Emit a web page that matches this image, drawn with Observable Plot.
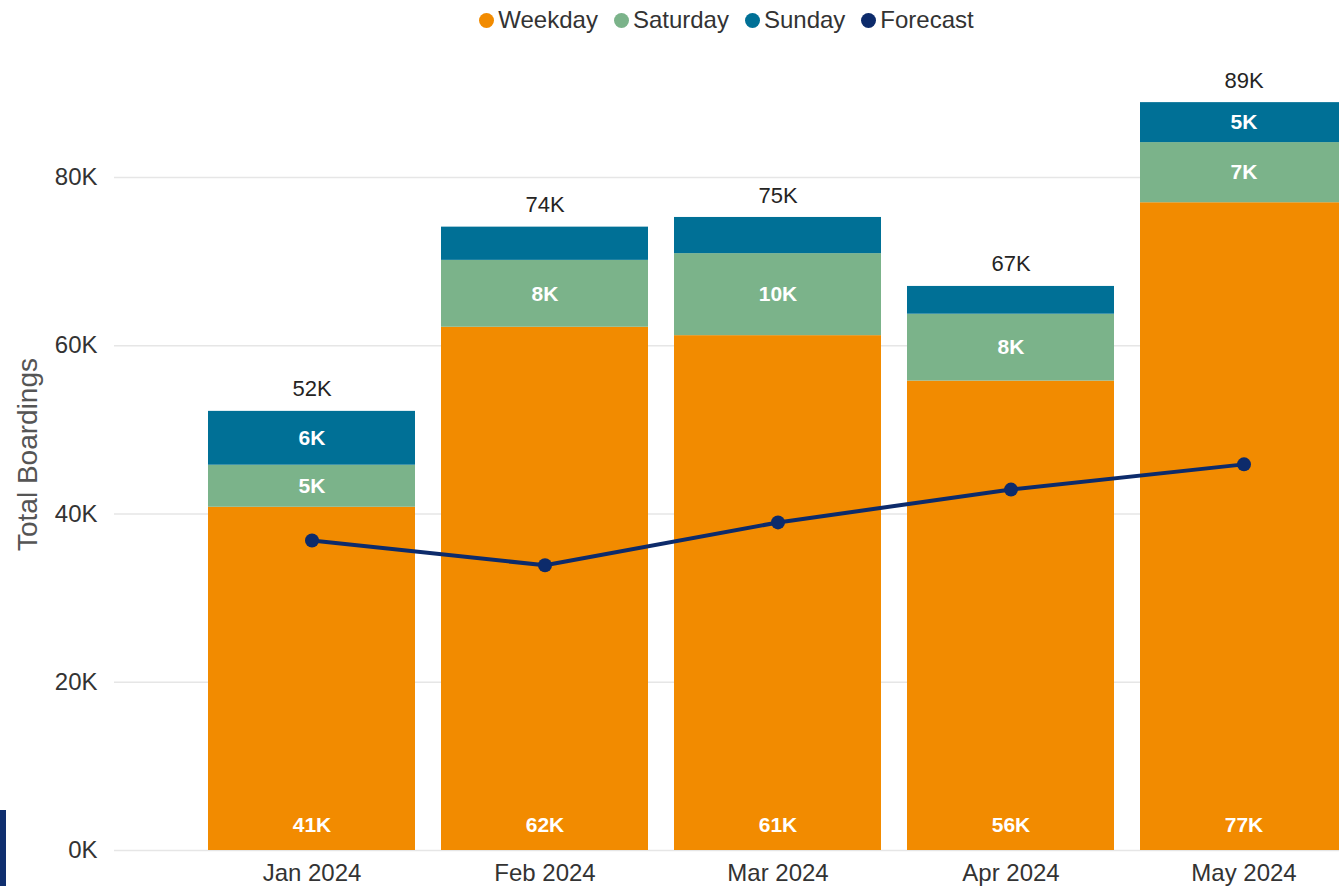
<!DOCTYPE html>
<html>
<head>
<meta charset="utf-8">
<script src="https://cdn.jsdelivr.net/npm/d3@7"></script>
<script src="https://cdn.jsdelivr.net/npm/@observablehq/plot@0.6"></script>
<style>
  html, body { margin: 0; padding: 0; background: #fff; width: 1339px; height: 886px; overflow: hidden; }
  body { font-family: "Liberation Sans", Arial, sans-serif; position: relative; }
  #legend { height: 40px; display: flex; justify-content: center; align-items: center; padding-left: 114px; box-sizing: border-box; gap: 16px; font-size: 24px; color: #333; }
  .item { display: flex; align-items: center; gap: 4px; }
  .dot { width: 15px; height: 15px; border-radius: 50%; display: inline-block; }
  #edge { position: absolute; left: 0; top: 810px; width: 6px; height: 76px; background: #0f2f6f; }
  svg { display: block; }
</style>
</head>
<body>
<div id="legend"></div>
<div id="chart"></div>
<div id="edge"></div>
<script>
const months = ["Jan 2024", "Feb 2024", "Mar 2024", "Apr 2024", "May 2024"];
const weekday = [40800, 62200, 61200, 55800, 77000];
const saturday = [5000, 7950, 9750, 7950, 7150];
const sunday = [6400, 3950, 4300, 3300, 4750];
const forecast = [36850, 33900, 39000, 42900, 45900];
const seriesNames = ["Weekday", "Saturday", "Sunday", "Forecast"];
const seriesColors = ["#F28B00", "#7BB38A", "#007096", "#0D2B6B"];
const yTicks = [0, 20000, 40000, 60000, 80000];

const fmt = v => Math.round(v / 1000) + "K";

// legend
const legend = document.getElementById("legend");
seriesNames.forEach((name, i) => {
  const it = document.createElement("div");
  it.className = "item";
  it.innerHTML = `<span class="dot" style="background:${seriesColors[i]}"></span><span>${name}</span>`;
  legend.appendChild(it);
});

// stacked table
const rows = [];
months.forEach((m, i) => {
  let base = 0;
  [["Weekday", weekday[i]], ["Saturday", saturday[i]], ["Sunday", sunday[i]]].forEach(([s, v]) => {
    rows.push({month: m, series: s, value: v, y1: base, y2: base + v, mid: base + v / 2});
    base += v;
  });
});
const totals = months.map((m, i) => ({month: m, total: weekday[i] + saturday[i] + sunday[i]}));
const fc = months.map((m, i) => ({month: m, value: forecast[i]}));
const wk = rows.filter(r => r.series === "Weekday");
const upper = rows.filter(r => r.series !== "Weekday" && r.value >= 4500);

const font = "Liberation Sans, Arial, sans-serif";

const chart = Plot.plot({
  width: 1339,
  height: 846,
  marginLeft: 114,
  marginRight: 0,
  marginTop: 20,
  marginBottom: 36,
  style: {fontFamily: font, fontSize: "24px", color: "#333", background: "#fff", overflow: "hidden"},
  x: {domain: months, range: [195, 1360], paddingInner: 0.11, paddingOuter: 0.055, label: null},
  y: {domain: [0, 80000], range: [810, 137], label: null},
  marks: [
    Plot.ruleY(yTicks, {stroke: "#e6e6e6", strokeWidth: 1.5}),
    Plot.axisY({ticks: yTicks, tickSize: 0, tickPadding: 17, tickFormat: fmt, fontSize: 24, fill: "#333", label: null}),
    Plot.axisX({tickSize: 0, tickPadding: 13, fontSize: 24, fill: "#333", label: null}),
    Plot.rectY(rows, {x: "month", y1: "y1", y2: "y2", fill: d => seriesColors[seriesNames.indexOf(d.series)]}),
    Plot.text(wk, {x: "month", y: 0, dy: -25, text: d => fmt(d.value), fill: "#fff", fontSize: 21, fontWeight: "bold"}),
    Plot.text(upper, {x: "month", y: "mid", text: d => fmt(d.value), fill: "#fff", fontSize: 21, fontWeight: "bold"}),
    Plot.text(totals, {x: "month", y: "total", dy: -22, text: d => fmt(d.total), fill: "#252423", fontSize: 22}),
    Plot.line(fc, {x: "month", y: "value", stroke: seriesColors[3], strokeWidth: 4}),
    Plot.dot(fc, {x: "month", y: "value", fill: seriesColors[3], r: 7}),
    Plot.text(["Total Boardings"], {frameAnchor: "left", textAnchor: "middle", rotate: -90, dx: -86, dy: -1, fill: "#555", fontSize: 28})
  ]
});
document.getElementById("chart").appendChild(chart);
</script>
</body>
</html>
